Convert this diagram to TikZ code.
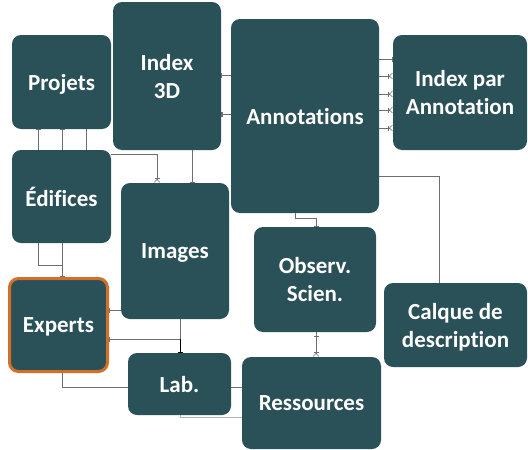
\documentclass[tikz,border=0pt]{standalone}
\usepackage{fontspec}
\setmainfont{Carlito}[Ligatures=NoCommon]
\usetikzlibrary{arrows.meta}
\definecolor{boxteal}{HTML}{2B5158}
\definecolor{boxorange}{HTML}{D2702A}
\definecolor{linegray}{HTML}{6E6E6E}
\tikzset{
  box/.style={draw=none, fill=boxteal, rounded corners=9pt, inner sep=0pt,
    text=white, align=center, text depth=0pt, font=\fontsize{23}{28}\selectfont\bfseries},
  hibox/.style={box, draw=boxorange, line width=3pt},
  conn/.style={draw=linegray, line width=0.8pt},
  bars/.style={-{Bar[width=5pt,line width=0.6pt] Bar[width=5pt,line width=0.6pt]}},
  onebar/.style={-{Bar[width=5pt,line width=0.6pt]}},
  crow/.style={-{Bar[width=5pt,line width=0.6pt] Straight Barb[reversed,length=3pt,width=6pt,line width=0.6pt]}},
}
\begin{document}
\begin{tikzpicture}[x=1pt,y=-1pt]
\useasboundingbox (0,0) rectangle (528,450);
% boxes
\node[box, minimum width=99pt, minimum height=94pt] (proj) at (61.5,82) {Projets};
\node[box, minimum width=108pt, minimum height=148pt] (i3d) at (167,76) {Index\\3D};
\node[box, minimum width=148pt, minimum height=194pt] (annot) at (305,116) {Annotations};
\node[box, minimum width=134pt, minimum height=115pt] (ipa) at (460,92.5) {Index par\\Annotation};
\node[box, minimum width=99pt, minimum height=93pt] (edif) at (61.5,196.5) {Édifices};
\node[box, minimum width=108pt, minimum height=136pt] (img) at (175,251) {Images};
\node[hibox, minimum width=98pt, minimum height=93pt] (exp) at (58.5,325) {Experts};
\node[box, minimum width=103pt, minimum height=62pt] (lab) at (179.5,384) {Lab.};
\node[box, minimum width=139pt, minimum height=92pt] (res) at (311.5,403) {Ressources};
\node[box, minimum width=122pt, minimum height=105pt] (obs) at (315,279.5) {Observ.\\Scien.};
\node[box, minimum width=143pt, minimum height=84pt] (calq) at (455.5,325) {Calque de\\description};
% connectors
\draw[conn, onebar] (edif.north -| 38,0) -- (proj.south -| 38,0);
\draw[conn, onebar] (edif.north -| 62,0) -- (proj.south -| 62,0);
\draw[conn] (edif.north -| 86,0) -- (proj.south -| 86,0);
\draw[conn, crow] (edif.east |- 0,154) -- (157,154) -- (img.north -| 157,0);
\draw[conn, bars] (i3d.south -| 192,0) -- (img.north -| 192,0);
\draw[conn, onebar] (annot.west |- 0,75) -- (i3d.east |- 0,75);
\draw[conn, bars] (annot.west |- 0,114) -- (i3d.east |- 0,114);
\draw[conn, bars] (annot.east |- 0,59) -- (ipa.west |- 0,59);
\draw[conn, crow] (annot.east |- 0,76) -- (ipa.west |- 0,76);
\draw[conn, crow] (annot.east |- 0,94) -- (ipa.west |- 0,94);
\draw[conn, crow] (annot.east |- 0,110) -- (ipa.west |- 0,110);
\draw[conn, crow] (annot.east |- 0,128) -- (ipa.west |- 0,128);
\draw[conn] (annot.east |- 0,176) -- (439,176) -- (calq.north -| 439,0);
\draw[conn, onebar] (annot.south -| 295,0) -- (295,218) -- (316,218) -- (obs.north -| 316,0);
\draw[conn, crow] (obs.south -| 316,0) -- (res.north -| 316,0);
\draw[conn, onebar] (obs.south -| 316,0) -- ([yshift=-4pt]obs.south -| 316,0);
\draw[conn, onebar] (edif.south -| 62,0) -- (exp.north -| 62,0);
\draw[conn] (edif.south -| 38,0) -- (38,265) -- (62,265);
\draw[conn, onebar] (img.west |- 0,310) -- (exp.east |- 0,310);
\draw[conn] (img.south -| 180,0) -- (180,339);
\draw[conn, onebar] (180,339) -- (exp.east |- 0,339);
\draw[line width=1pt, onebar] (180,339) -- (lab.north -| 180,0);
\draw[conn] (exp.south -| 62,0) -- (62,387) -- (lab.west |- 0,387);
\draw[conn] (lab.east |- 0,387) -- (res.west |- 0,387);
\draw[draw=gray!60, line width=1pt] (lab.south -| 180,0) -- (180,417) -- (res.west |- 0,417);
\end{tikzpicture}
\end{document}
